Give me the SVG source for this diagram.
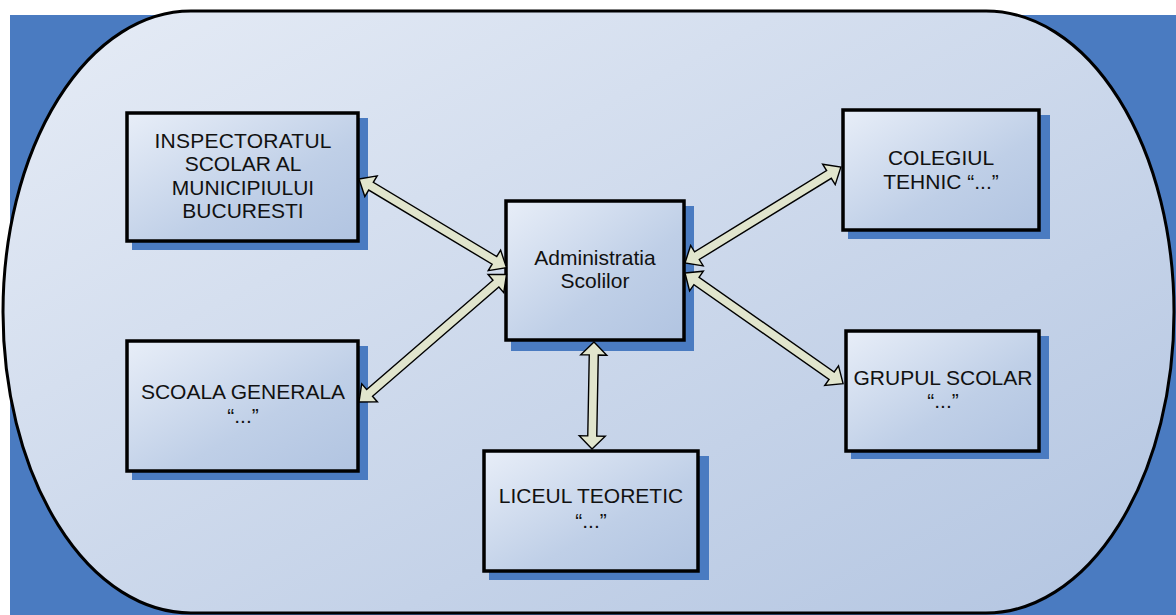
<svg xmlns="http://www.w3.org/2000/svg" width="1176" height="615" viewBox="0 0 1176 615">
<defs>
<linearGradient id="bg" x1="0" y1="0" x2="1" y2="1">
<stop offset="0" stop-color="#e6ecf6"/>
<stop offset="1" stop-color="#b3c5e1"/>
</linearGradient>
<linearGradient id="box" x1="0" y1="0" x2="1" y2="1">
<stop offset="0" stop-color="#e8eef8"/>
<stop offset="0.6" stop-color="#bfcfe7"/>
<stop offset="1" stop-color="#b1c4e1"/>
</linearGradient>
<style>
.sh{fill:#4a7bc1}
.bx{fill:url(#box);stroke:#000;stroke-width:3.5}
.t{font-family:"Liberation Sans",Arial,sans-serif;font-size:21px;fill:#111;text-anchor:middle}
.ar{fill:#e1e5cd;stroke:#000;stroke-width:1.4;stroke-linejoin:miter}
</style>
</defs>
<rect x="0" y="0" width="1176" height="615" fill="#fff"/>
<rect x="10" y="15" width="1166" height="600" fill="#4a7bc1"/>
<rect x="3" y="11" width="1171" height="602" rx="188" ry="301" fill="url(#bg)" stroke="#000" stroke-width="3"/>

<g id="inspectoratul">
<rect class="sh" x="132" y="118" width="236" height="132"/>
<rect class="bx" x="127" y="113" width="231" height="128"/>
<text class="t" x="243" y="148" textLength="177" lengthAdjust="spacing">INSPECTORATUL</text>
<text class="t" x="243" y="171">SCOLAR AL</text>
<text class="t" x="243" y="195">MUNICIPIULUI</text>
<text class="t" x="243" y="218">BUCURESTI</text>
</g>

<g id="administratia">
<rect class="sh" x="511" y="206" width="183" height="145"/>
<rect class="bx" x="506" y="201" width="178" height="139"/>
<text class="t" x="595" y="265">Administratia</text>
<text class="t" x="595" y="288">Scolilor</text>
</g>

<g id="colegiul">
<rect class="sh" x="848" y="115" width="202" height="124"/>
<rect class="bx" x="843" y="110" width="196" height="120"/>
<text class="t" x="941" y="165">COLEGIUL</text>
<text class="t" x="941" y="189">TEHNIC “...”</text>
</g>

<g id="grupul">
<rect class="sh" x="851" y="336" width="198" height="123"/>
<rect class="bx" x="846" y="331" width="193" height="120"/>
<text class="t" x="943" y="385">GRUPUL SCOLAR</text>
<text class="t" x="943" y="408">“...”</text>
</g>

<g id="scoala">
<rect class="sh" x="132" y="346" width="236" height="134"/>
<rect class="bx" x="127" y="341" width="231" height="130"/>
<text class="t" x="243" y="399">SCOALA GENERALA</text>
<text class="t" x="243" y="423">“...”</text>
</g>

<g id="liceul">
<rect class="sh" x="489" y="456" width="220" height="124"/>
<rect class="bx" x="484" y="451" width="214" height="120"/>
<text class="t" x="591" y="503">LICEUL TEORETIC</text>
<text class="t" x="591" y="528">“...”</text>
</g>

<g id="connectors">
<path class="ar" transform="translate(359,179) rotate(31.0)" d="M0,0 L14,-12 L14,-4.5 L158,-4.5 L158,-12 L172,0 L158,12 L158,4.5 L14,4.5 L14,12 Z"/>
<path class="ar" transform="translate(359,402) rotate(-40.85)" d="M0,0 L14,-12 L14,-4.5 L181,-4.5 L181,-12 L195,0 L181,12 L181,4.5 L14,4.5 L14,12 Z"/>
<path class="ar" transform="translate(685,263) rotate(-31.6)" d="M0,0 L14,-12 L14,-4.5 L169,-4.5 L169,-12 L183,0 L169,12 L169,4.5 L14,4.5 L14,12 Z"/>
<path class="ar" transform="translate(685,273) rotate(35.0)" d="M0,0 L14,-12 L14,-4.5 L179,-4.5 L179,-12 L193,0 L179,12 L179,4.5 L14,4.5 L14,12 Z"/>
<path class="ar" transform="translate(594,342) rotate(91.06)" d="M0,0 L13,-13 L13,-4.5 L94,-4.5 L94,-13 L107,0 L94,13 L94,4.5 L13,4.5 L13,13 Z"/>
</g>
</svg>
